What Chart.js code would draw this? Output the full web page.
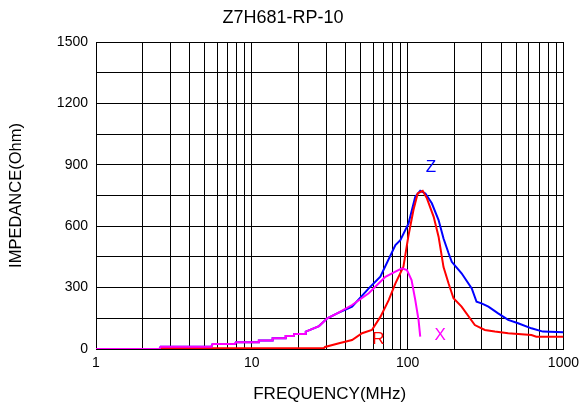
<!DOCTYPE html>
<html>
<head>
<meta charset="utf-8">
<script src="https://cdn.jsdelivr.net/npm/chart.js@4"></script>
<style>
  html, body { margin: 0; padding: 0; background: #fff; }
  #wrap { width: 585px; height: 409px; }
</style>
</head>
<body>
<div id="wrap"><canvas id="chart"></canvas></div>
<script>
// X curve (magenta) - drawn on top
const xFreq = [1, 2.55, 2.6, 5.5, 5.6, 7.8, 7.9, 11, 11.1, 13.5, 13.6, 16.4, 16.5, 18.6, 18.7, 22, 22.2, 27, 30.5, 35.3, 44, 56.3, 72, 83.5, 92, 99, 106, 112, 117.5, 120.5];
const xVals = [0, 0, 11, 11, 24, 24, 33, 33, 41, 41, 52, 52, 63, 63, 73, 73, 85, 112, 150, 174, 215, 272, 353, 378, 394, 386, 337, 239, 142, 60];

// R curve (red)
const rFreq = [1, 2.55, 2.6, 29, 29.5, 36.3, 44, 51, 59, 67, 75.6, 83.5, 94, 101, 109, 116, 125, 133, 147, 158, 170, 183, 197, 222, 270, 313, 363, 442, 623, 670, 1000];
const rVals = [0, 0, 4, 4, 10, 28, 44, 77, 93, 158, 239, 321, 402, 549, 679, 760, 773, 736, 646, 549, 400, 321, 248, 207, 117, 93, 85, 77, 68, 60, 60];

// Z curve (blue)
const zFreq = [1, 2.55, 2.6, 5.5, 5.6, 7.8, 7.9, 11, 11.1, 13.5, 13.6, 16.4, 16.5, 18.6, 18.7, 22, 22.2, 27, 30.5, 35.3, 44, 56.3, 66.8, 83.5, 89.8, 101.4, 112, 120.5, 130, 143, 158, 170, 183, 192, 222, 258, 277, 298, 330, 381, 442, 512, 623, 739, 1000];
const zVals = [0, 0, 11, 11, 24, 24, 33, 33, 41, 41, 52, 52, 63, 63, 73, 73, 85, 112, 150, 174, 207, 296, 353, 508, 532, 614, 744, 773, 760, 712, 630, 540, 469, 426, 370, 296, 231, 223, 207, 174, 142, 126, 101, 85, 82];

// curve tags
const tagText = ['Z', 'R', 'X'];
const tagFreq = [141, 65, 162];
const tagVals = [886, 49, 65];
const tagColors = ['#0000ff', '#ff0000', '#ff00ff'];

const fontFamily = '"Liberation Sans", Arial, sans-serif';

function toPoints(xs, ys) {
    return xs.map((x, i) => ({ x: x, y: ys[i] }));
}

const tagPlugin = {
    id: 'tags',
    afterDatasetsDraw(chart) {
        const ctx = chart.ctx;
        const xs = chart.scales.x;
        const ys = chart.scales.y;
        ctx.save();
        ctx.font = '17px ' + fontFamily;
        ctx.textAlign = 'center';
        ctx.textBaseline = 'middle';
        for (let i = 0; i < tagText.length; i++) {
            ctx.fillStyle = tagColors[i];
            ctx.fillText(tagText[i], xs.getPixelForValue(tagFreq[i]), ys.getPixelForValue(tagVals[i]));
        }
        ctx.restore();
    }
};

const ctx = document.getElementById('chart').getContext('2d');
new Chart(ctx, {
    type: 'line',
    data: {
        datasets: [
            { label: 'X', data: toPoints(xFreq, xVals), borderColor: '#ff00ff', borderWidth: 2, pointRadius: 0, tension: 0 },
            { label: 'R', data: toPoints(rFreq, rVals), borderColor: '#ff0000', borderWidth: 2, pointRadius: 0, tension: 0 },
            { label: 'Z', data: toPoints(zFreq, zVals), borderColor: '#0000ff', borderWidth: 2, pointRadius: 0, tension: 0 }
        ]
    },
    options: {
        responsive: true,
        maintainAspectRatio: false,
        animation: false,
        layout: { padding: { left: 0, right: 19, top: 0, bottom: 0 } },
        plugins: {
            legend: { display: false },
            tooltip: { enabled: false },
            title: {
                display: true,
                text: 'Z7H681-RP-10',
                color: '#000',
                font: { family: fontFamily, size: 18, weight: 'normal' },
                padding: { top: 7, bottom: 13.4 }
            }
        },
        scales: {
            x: {
                type: 'logarithmic',
                min: 1,
                max: 1000,
                afterBuildTicks(scale) {
                    const t = [];
                    for (let d = 1; d < 1000; d *= 10) {
                        for (let m = 1; m < 10; m++) t.push({ value: m * d });
                    }
                    t.push({ value: 1000 });
                    scale.ticks = t;
                },
                afterFit(scale) { scale.height = 60; },
                ticks: {
                    autoSkip: false,
                    maxRotation: 0,
                    color: '#000',
                    font: { family: fontFamily, size: 14 },
                    padding: 6,
                    callback(v) {
                        return [1, 10, 100, 1000].includes(v) ? String(v) : '';
                    }
                },
                grid: { color: '#000', lineWidth: 1, drawTicks: false },
                border: { color: '#000', width: 1 },
                title: {
                    display: true,
                    text: 'FREQUENCY(MHz)',
                    color: '#000',
                    font: { family: fontFamily, size: 17 },
                    padding: { top: 0, bottom: 4 }
                }
            },
            y: {
                min: 0,
                max: 1500,
                afterFit(scale) { scale.width = 96; },
                ticks: {
                    stepSize: 150,
                    autoSkip: false,
                    color: '#000',
                    font: { family: fontFamily, size: 14 },
                    padding: 8,
                    callback(v) {
                        return v % 300 === 0 ? String(v) : '';
                    }
                },
                grid: { color: '#000', lineWidth: 1, drawTicks: false },
                border: { color: '#000', width: 1 },
                title: {
                    display: true,
                    text: 'IMPEDANCE(Ohm)',
                    color: '#000',
                    font: { family: fontFamily, size: 16.5 },
                    padding: { top: 7, bottom: 0 }
                }
            }
        }
    },
    plugins: [tagPlugin]
});
</script>
</body>
</html>
